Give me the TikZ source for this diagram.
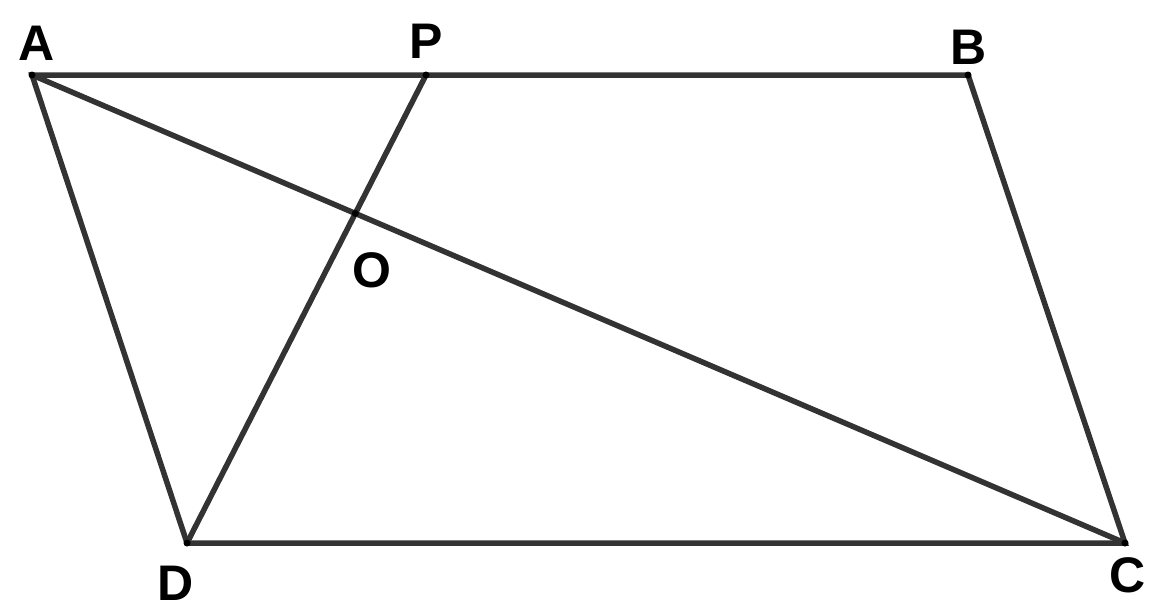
\documentclass[tikz,border=0pt]{standalone}
\usepackage{fontspec}
\setmainfont{Liberation Sans}
\usetikzlibrary{intersections}
\begin{document}
\begin{tikzpicture}[x=1pt,y=-1pt,
  seg/.style={line width=5.5pt,draw={rgb,255:red,51;green,51;blue,51},line cap=round},
  lbl/.style={anchor=base,inner sep=0pt,font=\fontsize{50}{50}\selectfont\bfseries},
  vdot/.style={circle,fill=black,inner sep=0pt,minimum size=7pt}]
\useasboundingbox (0,0) rectangle (1155,608);
\coordinate (A) at (32,75);
\coordinate (P) at (426,75);
\coordinate (B) at (968,75);
\coordinate (C) at (1125,543);
\coordinate (D) at (187,543);
\path[name path=ac] (A) -- (C);
\path[name path=pd] (P) -- (D);
\path[name intersections={of=ac and pd,by=O}];
\draw[seg] (A) -- (B) -- (C) -- (D) -- cycle;
\draw[seg] (A) -- (C);
\draw[seg] (P) -- (D);
\foreach \v in {A,P,B,C,D,O} \node[vdot] at (\v) {};
\node[lbl] (lA) at (37,60) {A};
\node[lbl] (lP) at (426,58) {P};
\node[lbl] (lB) at (969,64) {B};
\node[lbl] (lO) at (372,287) {O};
\node[lbl] (lD) at (176,600) {D};
\node[lbl] (lC) at (1128,592) {C};
\end{tikzpicture}
\end{document}
